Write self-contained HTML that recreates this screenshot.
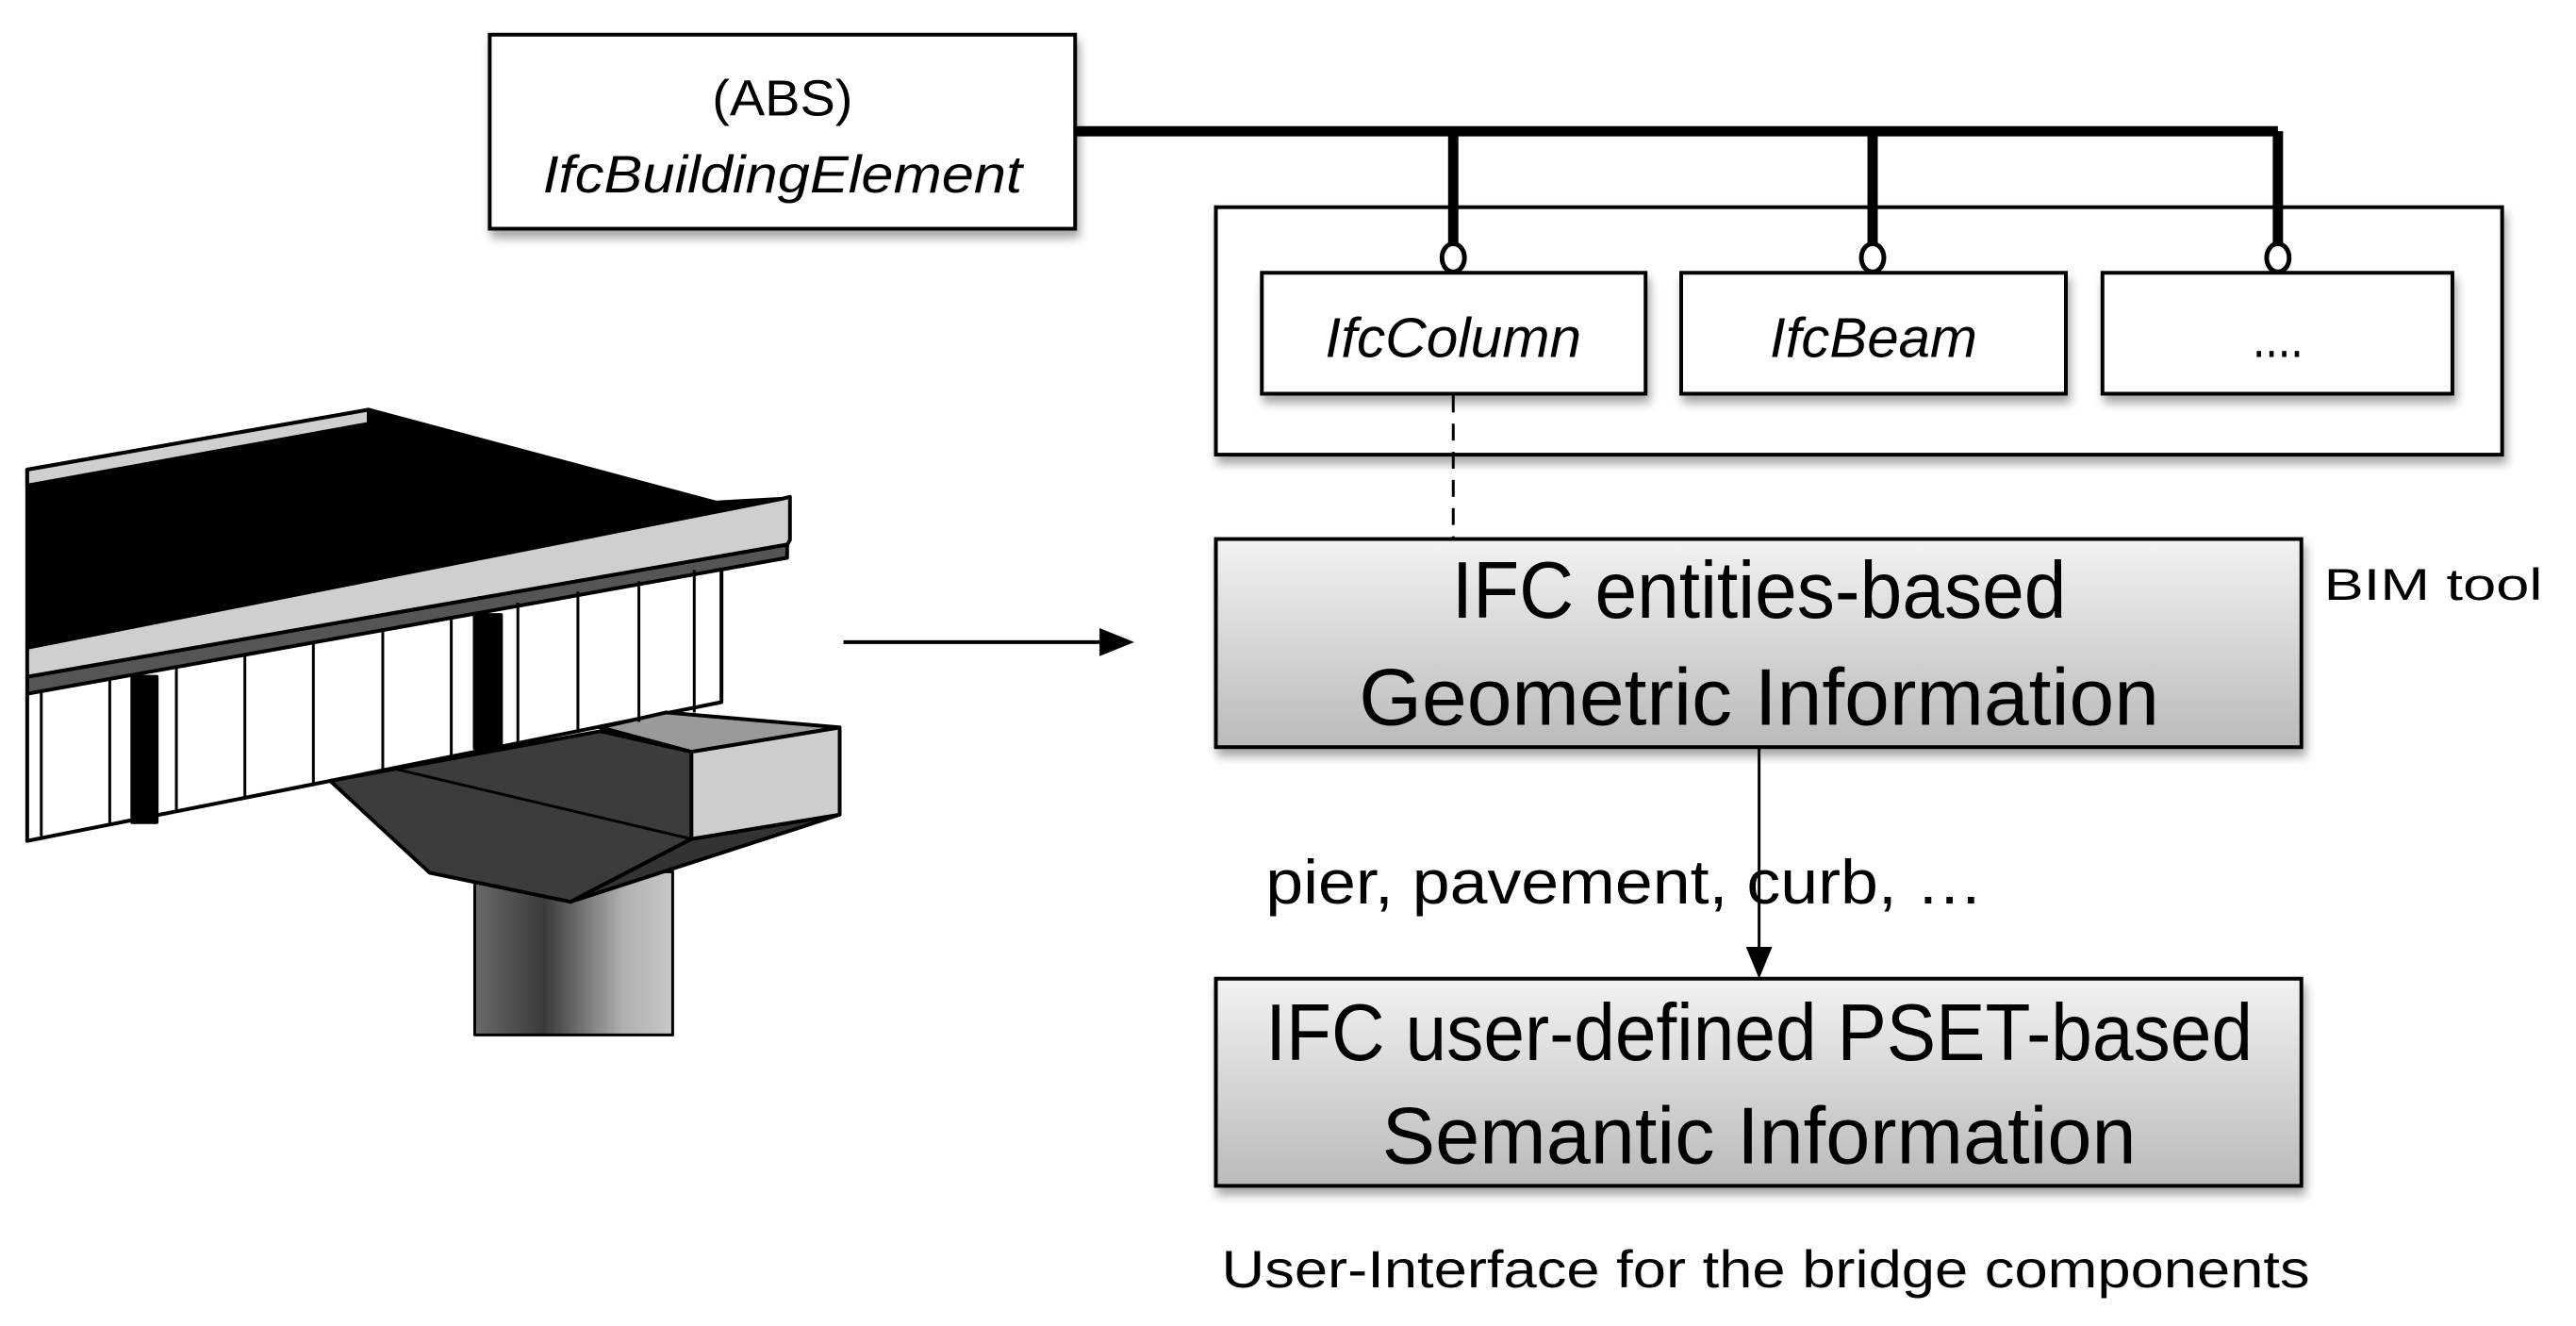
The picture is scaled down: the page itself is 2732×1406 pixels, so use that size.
<!DOCTYPE html>
<html><head><meta charset="utf-8"><style>
html,body{margin:0;padding:0;background:#fff;}
svg{display:block;}
text{font-family:"Liberation Sans",sans-serif;fill:#000;}
</style></head><body>
<svg width="2732" height="1406" viewBox="0 0 2732 1406" xmlns="http://www.w3.org/2000/svg">
<defs>
<linearGradient id="g" x1="0" y1="0" x2="0" y2="1">
<stop offset="0" stop-color="#f2f2f2"/><stop offset="1" stop-color="#bababa"/></linearGradient>
<linearGradient id="col" x1="0" y1="0" x2="1" y2="0">
<stop offset="0" stop-color="#6a6a6a"/><stop offset="0.35" stop-color="#3a3a3a"/><stop offset="0.75" stop-color="#b0b0b0"/><stop offset="1" stop-color="#c8c8c8"/></linearGradient>
<filter id="sh" x="-5%" y="-5%" width="115%" height="125%"><feDropShadow dx="3" dy="8" stdDeviation="5" flood-color="#000" flood-opacity="0.35"/></filter>
</defs>
<g transform="scale(0.995,0.994)">
<!-- ABS box -->
<rect x="522" y="37" width="624" height="207" fill="#fff" stroke="#000" stroke-width="4" filter="url(#sh)"/>
<text x="834" y="123" font-size="54" text-anchor="middle" textLength="150" lengthAdjust="spacingAndGlyphs">(ABS)</text>
<text x="834" y="205" font-size="56" font-style="italic" text-anchor="middle" textLength="511" lengthAdjust="spacingAndGlyphs">IfcBuildingElement</text>

<!-- outer box -->
<rect x="1296" y="221" width="1371" height="264" fill="#fff" stroke="#000" stroke-width="4" filter="url(#sh)"/>

<!-- thick connector -->
<path d="M1146 140 H2428 M1549 140 V262 M1996 140 V262 M2428 140 V262" stroke="#000" stroke-width="11" fill="none"/>
<ellipse cx="1549" cy="275" rx="12" ry="15" fill="#fff" stroke="#000" stroke-width="5"/>
<ellipse cx="1996" cy="275" rx="12" ry="15" fill="#fff" stroke="#000" stroke-width="5"/>
<ellipse cx="2428" cy="275" rx="12" ry="15" fill="#fff" stroke="#000" stroke-width="5"/>

<!-- small boxes -->
<rect x="1345" y="291" width="409" height="129" fill="#fff" stroke="#000" stroke-width="4" filter="url(#sh)"/>
<rect x="1792" y="291" width="410" height="129" fill="#fff" stroke="#000" stroke-width="4" filter="url(#sh)"/>
<rect x="2241" y="291" width="373" height="129" fill="#fff" stroke="#000" stroke-width="4" filter="url(#sh)"/>
<text x="1549" y="381" font-size="60" font-style="italic" text-anchor="middle" textLength="273" lengthAdjust="spacingAndGlyphs">IfcColumn</text>
<text x="1997" y="381" font-size="60" font-style="italic" text-anchor="middle" textLength="221" lengthAdjust="spacingAndGlyphs">IfcBeam</text>
<text x="2428" y="381" font-size="60" text-anchor="middle" textLength="54" lengthAdjust="spacingAndGlyphs">....</text>

<!-- dashed -->
<line x1="1549" y1="422" x2="1549" y2="575" stroke="#000" stroke-width="3" stroke-dasharray="18,12"/>

<!-- geometric box -->
<rect x="1296" y="575" width="1157" height="222" fill="url(#g)" stroke="#000" stroke-width="4" filter="url(#sh)"/>
<text x="1875" y="659" font-size="86" text-anchor="middle" textLength="655" lengthAdjust="spacingAndGlyphs">IFC entities-based</text>
<text x="1875" y="773" font-size="86" text-anchor="middle" textLength="853" lengthAdjust="spacingAndGlyphs">Geometric Information</text>
<text x="2477" y="640" font-size="48" textLength="233" lengthAdjust="spacingAndGlyphs">BIM tool</text>

<!-- arrows -->
<line x1="899" y1="685" x2="1180" y2="685" stroke="#000" stroke-width="4"/>
<polygon points="1209,685 1172,670 1172,700" fill="#000"/>
<line x1="1875" y1="797" x2="1875" y2="1015" stroke="#000" stroke-width="3"/>
<polygon points="1875,1044 1861,1010 1889,1010" fill="#000"/>
<text x="1349" y="964" font-size="66" textLength="765" lengthAdjust="spacingAndGlyphs">pier, pavement, curb, …</text>

<!-- semantic box -->
<rect x="1296" y="1044" width="1157" height="221" fill="url(#g)" stroke="#000" stroke-width="4" filter="url(#sh)"/>
<text x="1875" y="1131" font-size="86" text-anchor="middle" textLength="1052" lengthAdjust="spacingAndGlyphs">IFC user-defined PSET-based</text>
<text x="1875" y="1241" font-size="86" text-anchor="middle" textLength="804" lengthAdjust="spacingAndGlyphs">Semantic Information</text>

<text x="1302" y="1373" font-size="56" textLength="1160" lengthAdjust="spacingAndGlyphs">User-Interface for the bridge components</text>

<!-- bridge illustration -->
<g stroke="#000" stroke-width="4" stroke-linejoin="round">
<rect x="506" y="930" width="211" height="174" fill="url(#col)" stroke-width="3"/>
<polygon points="29,740 769,603 769,749 352,833 29,897" fill="#fff"/>
<polygon points="29,501 393,437 763,536 834,532 29,691" fill="#000"/>
<polygon points="29,501 393,437 393,452 29,518" fill="#cfcfcf"/>
<polygon points="29,691 834,532 842,530 842,576 839,581 29,722" fill="#cfcfcf"/>
<polygon points="29,722 839,581 839,595 29,740" fill="#555"/>
<rect x="141" y="722" width="26" height="155" fill="#000"/>
<rect x="506" y="656" width="28" height="142" fill="#000"/>
<polygon points="352,833 640,780 737,802 737,895 608,962 458,931" fill="#3c3c3c"/>
<polygon points="737,895 895,869 608,962" fill="#333"/>
<polygon points="640,776 710,760 895,776 737,802" fill="#9a9a9a"/>
<polygon points="737,802 895,776 895,869 737,895" fill="#cdcdcd"/>
<line x1="420" y1="820" x2="737" y2="895" stroke-width="3"/>
</g>
<g stroke="#000" stroke-width="3">
<line x1="44" y1="738" x2="44" y2="892"/>
<line x1="117" y1="724" x2="117" y2="878"/>
<line x1="188" y1="711" x2="188" y2="865"/>
<line x1="261" y1="697" x2="261" y2="850"/>
<line x1="334" y1="684" x2="334" y2="837"/>
<line x1="408" y1="670" x2="408" y2="823"/>
<line x1="481" y1="657" x2="481" y2="810"/>
<line x1="552" y1="643" x2="552" y2="795"/>
<line x1="616" y1="631" x2="616" y2="782"/>
<line x1="681" y1="620" x2="681" y2="770"/>
<line x1="740" y1="608" x2="740" y2="760"/>
</g>
</g>
</svg>
</body></html>
